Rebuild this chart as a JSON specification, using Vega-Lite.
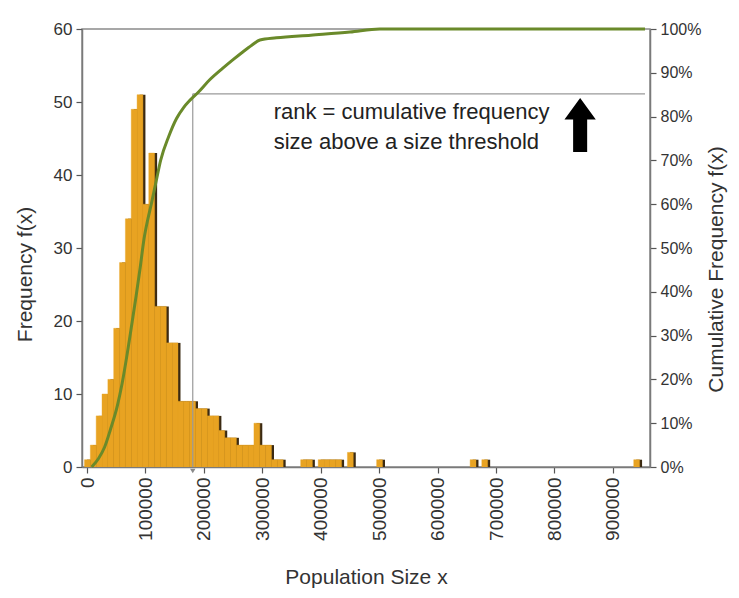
{
  "$schema": "https://vega.github.io/schema/vega-lite/v6.json",
  "width": 568,
  "height": 438,
  "autosize": "none",
  "padding": {"left": 82, "top": 29, "right": 89, "bottom": 131},
  "background": "white",
  "config": {
    "view": {"stroke": "#8a8a8a", "strokeWidth": 1.5},
    "font": "Liberation Sans",
    "axis": {
      "labelFont": "Liberation Sans",
      "titleFont": "Liberation Sans",
      "labelColor": "#333333",
      "titleColor": "#333333",
      "titleFontWeight": "normal",
      "domainColor": "#7a7a7a",
      "domainWidth": 1.5,
      "tickColor": "#555555",
      "tickWidth": 1.2,
      "grid": false
    }
  },
  "datasets": {
    "hist": [
      {"start": 0, "end": 10000, "freq": 1},
      {"start": 10000, "end": 20000, "freq": 3},
      {"start": 20000, "end": 30000, "freq": 7},
      {"start": 30000, "end": 40000, "freq": 10},
      {"start": 40000, "end": 50000, "freq": 12},
      {"start": 50000, "end": 60000, "freq": 19},
      {"start": 60000, "end": 70000, "freq": 28},
      {"start": 70000, "end": 80000, "freq": 34},
      {"start": 80000, "end": 90000, "freq": 49},
      {"start": 90000, "end": 100000, "freq": 51},
      {"start": 100000, "end": 110000, "freq": 36},
      {"start": 110000, "end": 120000, "freq": 43},
      {"start": 120000, "end": 130000, "freq": 22},
      {"start": 130000, "end": 140000, "freq": 22},
      {"start": 140000, "end": 150000, "freq": 17},
      {"start": 150000, "end": 160000, "freq": 17},
      {"start": 160000, "end": 170000, "freq": 9},
      {"start": 170000, "end": 180000, "freq": 9},
      {"start": 180000, "end": 190000, "freq": 9},
      {"start": 190000, "end": 200000, "freq": 8},
      {"start": 200000, "end": 210000, "freq": 8},
      {"start": 210000, "end": 220000, "freq": 7},
      {"start": 220000, "end": 230000, "freq": 7},
      {"start": 230000, "end": 240000, "freq": 5},
      {"start": 240000, "end": 250000, "freq": 4},
      {"start": 250000, "end": 260000, "freq": 4},
      {"start": 260000, "end": 270000, "freq": 3},
      {"start": 270000, "end": 280000, "freq": 3},
      {"start": 280000, "end": 290000, "freq": 3},
      {"start": 290000, "end": 300000, "freq": 6},
      {"start": 300000, "end": 310000, "freq": 3},
      {"start": 310000, "end": 320000, "freq": 3},
      {"start": 320000, "end": 330000, "freq": 1},
      {"start": 330000, "end": 340000, "freq": 1},
      {"start": 370000, "end": 380000, "freq": 1},
      {"start": 380000, "end": 390000, "freq": 1},
      {"start": 400000, "end": 410000, "freq": 1},
      {"start": 410000, "end": 420000, "freq": 1},
      {"start": 420000, "end": 430000, "freq": 1},
      {"start": 430000, "end": 440000, "freq": 1},
      {"start": 450000, "end": 460000, "freq": 2},
      {"start": 500000, "end": 510000, "freq": 1},
      {"start": 660000, "end": 670000, "freq": 1},
      {"start": 680000, "end": 690000, "freq": 1},
      {"start": 940000, "end": 950000, "freq": 1}
    ],
    "cumline": [
      {"pop": 8000, "cum": 0},
      {"pop": 20000, "cum": 0.02},
      {"pop": 30000, "cum": 0.045},
      {"pop": 40000, "cum": 0.085},
      {"pop": 52000, "cum": 0.14},
      {"pop": 60000, "cum": 0.19},
      {"pop": 69000, "cum": 0.26},
      {"pop": 76000, "cum": 0.32},
      {"pop": 84000, "cum": 0.39},
      {"pop": 91000, "cum": 0.455},
      {"pop": 97500, "cum": 0.52},
      {"pop": 104000, "cum": 0.565},
      {"pop": 110000, "cum": 0.6},
      {"pop": 118000, "cum": 0.65},
      {"pop": 126000, "cum": 0.7},
      {"pop": 140000, "cum": 0.755},
      {"pop": 153000, "cum": 0.795},
      {"pop": 165000, "cum": 0.82},
      {"pop": 176000, "cum": 0.837},
      {"pop": 190000, "cum": 0.855},
      {"pop": 210000, "cum": 0.884},
      {"pop": 232000, "cum": 0.91},
      {"pop": 250000, "cum": 0.93},
      {"pop": 266000, "cum": 0.947},
      {"pop": 282000, "cum": 0.963},
      {"pop": 296000, "cum": 0.975},
      {"pop": 324000, "cum": 0.98},
      {"pop": 383000, "cum": 0.986},
      {"pop": 450000, "cum": 0.993},
      {"pop": 501000, "cum": 1},
      {"pop": 955000, "cum": 1}
    ],
    "threshold": [{"pop": 181000, "cum": 0.852, "base": 0, "popmax": 955000}],
    "notes": [
      {"pop": 319500, "cum": 0.81, "label": "rank = cumulative frequency"},
      {"pop": 319500, "cum": 0.742, "label": "size above a size threshold"}
    ],
    "arrow": [{"pop": 844000, "cum": 0.781}]
  },
  "layer": [
    {
      "data": {"name": "hist"},
      "mark": {"type": "bar", "color": "#3b2a12", "clip": true, "orient": "vertical"},
      "encoding": {
        "x": {"field": "start", "type": "quantitative", "scale": {"domain": [0, 955000], "nice": false, "zero": true},
          "axis": {"title": "Population Size x", "values": [0, 100000, 200000, 300000, 400000, 500000, 600000, 700000, 800000, 900000],
            "labelAngle": 270, "labelFontSize": 19, "titleFontSize": 21, "tickSize": 6, "labelPadding": 4, "titlePadding": 26, "format": "d"}},
        "x2": {"field": "end"},
        "y": {"field": "freq", "type": "quantitative", "scale": {"domain": [0, 60], "nice": false},
          "axis": {"title": "Frequency f(x)", "orient": "left", "values": [0, 10, 20, 30, 40, 50, 60], "labelFontSize": 17, "titleFontSize": 21, "tickSize": 6, "labelPadding": 4, "titlePadding": 18, "titleY": 245}}
      }
    },
    {
      "data": {"name": "hist"},
      "mark": {"type": "bar", "color": "#E8A322", "stroke": "#E8A322", "strokeWidth": 0.4, "xOffset": -2.5, "x2Offset": -2.5, "clip": true, "orient": "vertical"},
      "encoding": {
        "x": {"field": "start", "type": "quantitative", "scale": {"domain": [0, 955000], "nice": false, "zero": true}},
        "x2": {"field": "end"},
        "y": {"field": "freq", "type": "quantitative", "scale": {"domain": [0, 60], "nice": false}, "axis": null}
      }
    },
    {
      "data": {"name": "threshold"},
      "mark": {"type": "rule", "color": "#9a9a9a", "strokeWidth": 1.2},
      "encoding": {
        "x": {"field": "pop", "type": "quantitative", "scale": {"domain": [0, 955000], "nice": false}},
        "y": {"field": "base", "type": "quantitative", "scale": {"domain": [0, 1], "nice": false}, "axis": null},
        "y2": {"field": "cum"}
      }
    },
    {
      "data": {"name": "threshold"},
      "mark": {"type": "rule", "color": "#9a9a9a", "strokeWidth": 1.2},
      "encoding": {
        "x": {"field": "pop", "type": "quantitative", "scale": {"domain": [0, 955000], "nice": false}},
        "x2": {"field": "popmax"},
        "y": {"field": "cum", "type": "quantitative", "scale": {"domain": [0, 1], "nice": false}, "axis": null}
      }
    },
    {
      "data": {"name": "threshold"},
      "mark": {"type": "point", "shape": "triangle-down", "filled": true, "color": "#8a8a8a", "opacity": 1, "size": 30, "yOffset": 4},
      "encoding": {
        "x": {"field": "pop", "type": "quantitative", "scale": {"domain": [0, 955000], "nice": false}},
        "y": {"field": "base", "type": "quantitative", "scale": {"domain": [0, 1], "nice": false}, "axis": null}
      }
    },
    {
      "data": {"name": "cumline"},
      "mark": {"type": "line", "color": "#6a8a2a", "strokeWidth": 3, "clip": false, "interpolate": "monotone"},
      "encoding": {
        "x": {"field": "pop", "type": "quantitative", "scale": {"domain": [0, 955000], "nice": false}},
        "y": {"field": "cum", "type": "quantitative", "scale": {"domain": [0, 1], "nice": false},
          "axis": {"title": "Cumulative Frequency f(x)", "orient": "right", "format": ".0%", "values": [0, 0.1, 0.2, 0.3, 0.4, 0.5, 0.6, 0.7, 0.8, 0.9, 1],
            "labelFontSize": 16, "titleFontSize": 21, "titleAngle": 270, "tickSize": 6, "labelPadding": 4, "titlePadding": 26, "titleY": 240}}
      }
    },
    {
      "data": {"name": "notes"},
      "mark": {"type": "text", "align": "left", "baseline": "middle", "fontSize": 22, "color": "#222222", "font": "Liberation Sans"},
      "encoding": {
        "x": {"field": "pop", "type": "quantitative", "scale": {"domain": [0, 955000], "nice": false}},
        "y": {"field": "cum", "type": "quantitative", "scale": {"domain": [0, 1], "nice": false}, "axis": null},
        "text": {"field": "label"}
      }
    },
    {
      "data": {"name": "arrow"},
      "mark": {"type": "point", "shape": "M0,-1 L0.58,-0.2 L0.26,-0.2 L0.26,1 L-0.26,1 L-0.26,-0.2 L-0.58,-0.2 Z", "filled": true, "color": "#000000", "opacity": 1, "size": 2916},
      "encoding": {
        "x": {"field": "pop", "type": "quantitative", "scale": {"domain": [0, 955000], "nice": false}},
        "y": {"field": "cum", "type": "quantitative", "scale": {"domain": [0, 1], "nice": false}, "axis": null}
      }
    }
  ],
  "resolve": {"scale": {"y": "independent"}}
}
